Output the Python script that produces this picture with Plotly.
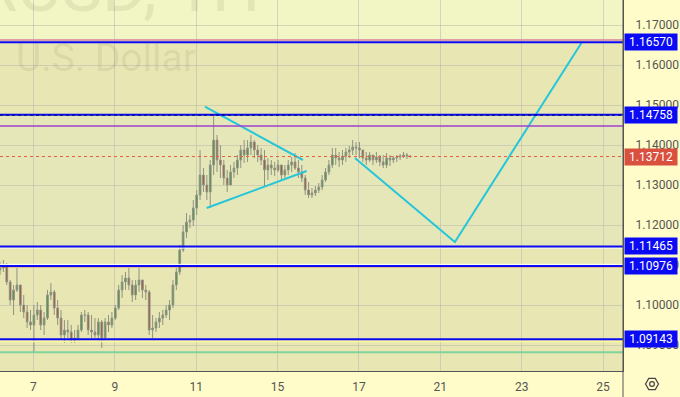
import plotly.graph_objects as go

# ---------------- data ----------------
x_tick_labels = ["7", "9", "11", "15", "17", "21", "23", "25"]
x_tick_pos = [0, 2, 4, 6, 8, 10, 12, 14]
y_ticks = [1.09, 1.10, 1.11, 1.12, 1.13, 1.14, 1.15, 1.16, 1.17]

first_open = 1.10875
bar_start = -0.82          # day index of the first bar
bar_step = 1 / 12          # 2-hour bars

highs = [1.11075, 1.11125, 1.1105, 1.10625, 1.105, 1.10925, 1.105, 1.1025, 1.1, 1.09875,
         1.1, 1.10075, 1.1, 1.09825, 1.10375, 1.1055, 1.10375, 1.10125, 1.09875, 1.09625,
         1.09625, 1.095, 1.09375, 1.095, 1.09825, 1.09875, 1.09825, 1.0975, 1.09675, 1.09675,
         1.09625, 1.09675, 1.0975, 1.09825, 1.1, 1.105, 1.1075, 1.10825, 1.10925, 1.10625,
         1.10625, 1.10925, 1.10625, 1.105, 1.10375, 1.0975, 1.09675, 1.09825, 1.09875, 1.1,
         1.10125, 1.10625, 1.10925, 1.115, 1.12, 1.123, 1.1225, 1.12625, 1.12875, 1.13875,
         1.13425, 1.1325, 1.13625, 1.1475, 1.1425, 1.14, 1.13625, 1.13375, 1.135, 1.13575,
         1.1375, 1.14, 1.14125, 1.14125, 1.1425, 1.14125, 1.14, 1.13925, 1.13875, 1.13675,
         1.13625, 1.13575, 1.13625, 1.135, 1.135, 1.13625, 1.137, 1.138, 1.13625, 1.135,
         1.1325, 1.13075, 1.12925, 1.12975, 1.1305, 1.1325, 1.13425, 1.13625, 1.13925, 1.13925,
         1.13825, 1.13875, 1.13925, 1.13975, 1.14125, 1.14075, 1.14075, 1.13875, 1.13825, 1.13825,
         1.1375, 1.13825, 1.1375, 1.1375, 1.138, 1.1375, 1.13725, 1.1375, 1.13775, 1.13825,
         1.138, 1.1375]

lows = [1.1075, 1.10825, 1.105, 1.1, 1.0975, 1.10325, 1.09825, 1.09675, 1.09425, 1.09375,
        1.08825, 1.09625, 1.09375, 1.0925, 1.09625, 1.10125, 1.0975, 1.095, 1.09125, 1.0905,
        1.09175, 1.0905, 1.0905, 1.09125, 1.09325, 1.09575, 1.0925, 1.09175, 1.09175, 1.09125,
        1.08925, 1.09175, 1.09325, 1.09425, 1.09625, 1.09875, 1.10175, 1.10375, 1.10375, 1.10075,
        1.10125, 1.10325, 1.10175, 1.10125, 1.0925, 1.09175, 1.09325, 1.09425, 1.095, 1.09675,
        1.09625, 1.09925, 1.10375, 1.1075, 1.11325, 1.11675, 1.11925, 1.11975, 1.1225, 1.12625,
        1.12825, 1.12625, 1.12425, 1.1325, 1.13325, 1.13175, 1.13, 1.12825, 1.13, 1.13175,
        1.1325, 1.13425, 1.1355, 1.13575, 1.1375, 1.13675, 1.13575, 1.135, 1.1295, 1.13125,
        1.1325, 1.13225, 1.13325, 1.13125, 1.13175, 1.1325, 1.13325, 1.13375, 1.13175, 1.13075,
        1.1275, 1.12675, 1.12675, 1.12725, 1.128, 1.12875, 1.13075, 1.1325, 1.13425, 1.135,
        1.1345, 1.135, 1.13575, 1.13675, 1.1375, 1.1375, 1.13675, 1.13575, 1.135, 1.13575,
        1.135, 1.1355, 1.13475, 1.13425, 1.13425, 1.13475, 1.1355, 1.13575, 1.13625, 1.13675,
        1.1365, 1.13675]

closes = [1.10925, 1.11, 1.10575, 1.10125, 1.10375, 1.105, 1.1, 1.09825, 1.09575, 1.095,
          1.0975, 1.09875, 1.095, 1.09675, 1.1025, 1.10325, 1.09925, 1.09675, 1.0925, 1.09375,
          1.09325, 1.09125, 1.09175, 1.09375, 1.0975, 1.0975, 1.09375, 1.09325, 1.0925, 1.09575,
          1.09175, 1.09575, 1.095, 1.09675, 1.09925, 1.10375, 1.10575, 1.10675, 1.105, 1.1025,
          1.105, 1.10625, 1.10375, 1.10325, 1.09375, 1.09425, 1.09575, 1.09675, 1.0975, 1.09875,
          1.1, 1.105, 1.10825, 1.11375, 1.11825, 1.12075, 1.12125, 1.12425, 1.1275, 1.1325,
          1.13, 1.12825, 1.135, 1.14125, 1.13625, 1.135, 1.13175, 1.13, 1.13325, 1.13425,
          1.13625, 1.13875, 1.1375, 1.13925, 1.14075, 1.13875, 1.1375, 1.13625, 1.13375, 1.135,
          1.13425, 1.13375, 1.135, 1.1325, 1.13375, 1.135, 1.13575, 1.13425, 1.13325, 1.13175,
          1.12875, 1.1275, 1.128, 1.12875, 1.1295, 1.13125, 1.13325, 1.135, 1.1375, 1.13675,
          1.13625, 1.13725, 1.13825, 1.13875, 1.1395, 1.13925, 1.13875, 1.13675, 1.13625, 1.1375,
          1.13625, 1.137, 1.13575, 1.135, 1.13675, 1.13625, 1.13675, 1.137, 1.13725, 1.1375,
          1.13725, 1.13712]

# horizontal levels
blue_levels = [1.16570, 1.14758, 1.11465, 1.10976, 1.09143]
pink_level = 1.16625
purple_level = 1.14475
red_level = 1.10962
yellow_level = 1.09085
green_level = 1.08820
last_price = 1.13712

# drawings (day index, price)
tri_upper_x = [4.216, 6.624]
tri_upper_y = [1.14958, 1.13625]
tri_lower_x = [4.258, 6.715]
tri_lower_y = [1.12425, 1.13350]
path_x = [7.902, 10.359, 13.479]
path_y = [1.13675, 1.11575, 1.16570]

# ---------------- figure ----------------
n = len(closes)
xs = [bar_start + i * bar_step for i in range(n)]
opens = [first_open] + closes[:-1]

AX_COL = "#555555"
GRID = "rgba(175,175,170,0.45)"
CYAN = "#26c6da"
BLUE = "#0a0af5"

fig = go.Figure()
fig.add_trace(go.Candlestick(
    x=xs, open=opens, high=highs, low=lows, close=closes,
    increasing=dict(line=dict(color="#8f9482", width=1), fillcolor="#4f8f4a"),
    decreasing=dict(line=dict(color="#8f9482", width=1), fillcolor="#a5473a"),
    whiskerwidth=0, showlegend=False, hoverinfo="skip"))

for xx, yy in [(tri_upper_x, tri_upper_y), (tri_lower_x, tri_lower_y), (path_x, path_y)]:
    fig.add_trace(go.Scatter(x=xx, y=yy, mode="lines",
                             line=dict(color=CYAN, width=2),
                             showlegend=False, hoverinfo="skip"))

y_top = 1.17625
y_bot = 1.0835
shapes = []
# background bands
shapes.append(dict(type="rect", xref="paper", yref="y", x0=0, x1=1, y0=blue_levels[0], y1=y_top,
                   fillcolor="#f2f5c4", line=dict(width=0), layer="below"))
shapes.append(dict(type="rect", xref="paper", yref="y", x0=0, x1=1, y0=blue_levels[2], y1=blue_levels[1],
                   fillcolor="#e6e7b9", line=dict(width=0), layer="below"))


def hline(y, color, width=1, dash="solid"):
    return dict(type="line", xref="paper", yref="y", x0=0, x1=1, y0=y, y1=y,
                line=dict(color=color, width=width, dash=dash), layer="above")


shapes.append(hline(pink_level, "#d9809a", 1.5))
shapes.append(hline(purple_level, "#a040d0", 1.5))
shapes.append(hline(red_level, "#e02020", 1.5))
shapes.append(hline(yellow_level, "#fffa9a", 1.5))
shapes.append(hline(green_level, "#7fd39a", 2))
shapes.append(hline(blue_levels[2] - 0.0004, "#ffffff", 1))
shapes.append(hline(blue_levels[3] + 0.0004, "#ffffff", 1))
for lv in blue_levels:
    shapes.append(hline(lv, BLUE, 2))
shapes.append(hline(blue_levels[1] - 0.00012, "#000060", 1, "dot"))
shapes.append(hline(last_price, "#e8603c", 1, "dot"))

# right axis separator extending into bottom strip
shapes.append(dict(type="line", xref="paper", yref="paper", x0=1, x1=1, y0=-0.08, y1=1,
                   line=dict(color=AX_COL, width=1), layer="above"))
# settings icon (hexagon + circle) in the bottom-right corner
W, H = 623.0, 371.0
cx, cy, r = 652.0, 384.0, 6.5
hex_pts = [(cx + r, cy), (cx + r / 2, cy - 5.6), (cx - r / 2, cy - 5.6), (cx - r, cy),
           (cx - r / 2, cy + 5.6), (cx + r / 2, cy + 5.6)]
path = "M " + " L ".join(f"{px / W:.5f},{(H - py) / H:.5f}" for px, py in hex_pts) + " Z"
shapes.append(dict(type="path", xref="paper", yref="paper", path=path,
                   line=dict(color="#444444", width=1.2)))
shapes.append(dict(type="circle", xref="paper", yref="paper",
                   x0=(cx - 2.4) / W, x1=(cx + 2.4) / W, y0=(H - cy - 2.4) / H, y1=(H - cy + 2.4) / H,
                   line=dict(color="#444444", width=1.2)))

annotations = []
# watermark
annotations.append(dict(text="EURUSD, 1H", xref="paper", yref="paper", x=262 / W, y=(H - 30) / H,
                        xanchor="right", yanchor="bottom", showarrow=False,
                        font=dict(family="Roboto", size=68, color="rgba(90,90,60,0.10)")))
annotations.append(dict(text="U.S. Dollar", xref="paper", yref="paper", x=14 / W, y=(H - 58) / H,
                        xanchor="left", yanchor="middle", showarrow=False,
                        font=dict(family="Roboto", size=39, color="rgba(90,90,60,0.10)")))
# price labels
for lv in blue_levels:
    annotations.append(dict(text=f"{lv:.5f}", xref="paper", yref="y", x=1, y=lv,
                            xanchor="left", yanchor="middle", xshift=1, showarrow=False,
                            bgcolor=BLUE, borderpad=1, width=50,
                            font=dict(family="Roboto", size=12, color="white")))
annotations.append(dict(text=f"{last_price:.5f}", xref="paper", yref="y", x=1, y=last_price,
                        xanchor="left", yanchor="middle", xshift=1, showarrow=False,
                        bgcolor="#d9503f", borderpad=1, width=50,
                        font=dict(family="Roboto", size=12, color="white")))

fig.update_layout(
    width=680, height=397,
    margin=dict(l=0, r=57, t=0, b=26, autoexpand=False),
    paper_bgcolor="#fffcc9",
    plot_bgcolor="#e8e6b3",
    shapes=shapes, annotations=annotations,
    xaxis=dict(range=[-0.82, 14.49], tickvals=x_tick_pos, ticktext=x_tick_labels,
               showgrid=True, gridcolor=GRID, gridwidth=1, zeroline=False,
               showline=True, linecolor=AX_COL, linewidth=1, ticks="",
               ticklabelstandoff=5, automargin=False,
               tickfont=dict(family="Roboto", size=12, color=AX_COL),
               rangeslider=dict(visible=False), fixedrange=True),
    yaxis=dict(range=[y_bot, y_top], side="right", tickvals=y_ticks,
               ticktext=[f"{v:.5f}" for v in y_ticks],
               showgrid=True, gridcolor=GRID, gridwidth=1, zeroline=False,
               showline=True, linecolor=AX_COL, linewidth=1, ticks="",
               ticklabelstandoff=9, automargin=False,
               tickfont=dict(family="Roboto", size=12, color=AX_COL), fixedrange=True),
)

fig.write_html("out.html", config={"displayModeBar": False},
               post_script="document.body.style.margin='0px';document.body.style.overflow='hidden';")
